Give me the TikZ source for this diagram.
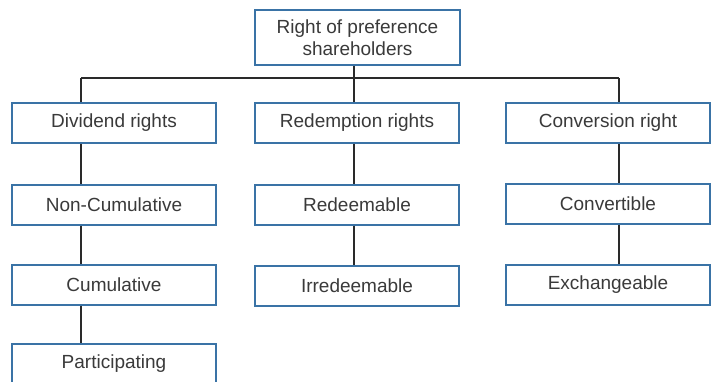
\documentclass[tikz,border=0pt]{standalone}
\usepackage{fontspec}
\setmainfont{Liberation Sans}
\definecolor{boxblue}{HTML}{3A73A6}
\definecolor{txt}{HTML}{3A3A3A}
\definecolor{conn}{HTML}{2A2A2A}
\begin{document}
\begin{tikzpicture}[x=1pt,y=-1pt,
  box/.style={draw=boxblue, line width=2pt, fill=white, minimum width=204pt, minimum height=40pt,
    inner sep=0pt, text=txt, font=\fontsize{19}{22}\selectfont, align=center},
  conline/.style={draw=conn, line width=1.8pt}]
\useasboundingbox (0,0) rectangle (715,381);
\begin{scope}
\clip (0,0) rectangle (715,381);
% coordinates of connector columns
\coordinate (hub) at (354,78);
\coordinate (cL) at (81,78);
\coordinate (cR) at (619,78);

\node[box, minimum width=205pt, minimum height=55pt] (root) at (357.5,37.5) {Right of preference\\shareholders};

\node[box] (div) at (114,123) {Dividend rights};
\node[box] (noncum) at (114,204.5) {Non-Cumulative};
\node[box] (cum) at (114,284.5) {Cumulative};
\node[box] (part) at (114,364) {Participating};

\node[box] (red) at (357,123) {Redemption rights};
\node[box] (rdm) at (357,204.5) {Redeemable};
\node[box] (irr) at (357,286) {Irredeemable};

\node[box] (conv) at (608,123) {Conversion right};
\node[box] (cvt) at (608,203.5) {Convertible};
\node[box] (exch) at (608,284.5) {Exchangeable};

\draw[conline] (cL) -- (cR);
\draw[conline] (root.south -| hub) -- (red.north -| hub);
\draw[conline] (cL) -- (div.north -| cL);
\draw[conline] (cR) -- (conv.north -| cR);
\draw[conline] (div.south -| cL) -- (noncum.north -| cL);
\draw[conline] (noncum.south -| cL) -- (cum.north -| cL);
\draw[conline] (cum.south -| cL) -- (part.north -| cL);
\draw[conline] (red.south -| hub) -- (rdm.north -| hub);
\draw[conline] (rdm.south -| hub) -- (irr.north -| hub);
\draw[conline] (conv.south -| cR) -- (cvt.north -| cR);
\draw[conline] (cvt.south -| cR) -- (exch.north -| cR);
\end{scope}
\end{tikzpicture}
\end{document}
